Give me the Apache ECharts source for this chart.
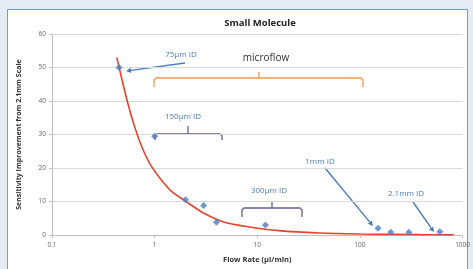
<!DOCTYPE html>
<html>
<head>
<meta charset="utf-8">
<script src="https://cdn.jsdelivr.net/npm/echarts@6/dist/echarts.min.js"></script>
<style>
html, body { margin: 0; padding: 0; background: #e4ebf3; }
#chart { width: 473px; height: 269px; }
</style>
</head>
<body>
<div id="chart"></div>
<script>
// measured points (blue diamonds)
var flowRate = [0.45, 1, 2, 3, 4, 12, 150, 200, 300, 600];
var sensitivity = [50, 29.5, 10.5, 8.8, 3.8, 3, 2, 0.8, 0.8, 1];

// red trend curve
var trendX = [0.428, 0.478, 0.547, 0.64, 0.748, 0.894, 1.118, 1.462, 2.044, 3.06, 4.79, 8.36, 16.3, 40, 100, 380, 820];
var trendY = [53, 46.7, 39.4, 32.2, 26.4, 21.4, 17.1, 13, 9.9, 6.4, 3.8, 2.4, 1.3, 0.6, 0.3, 0.1, 0.05];

var yTicks = [0, 10, 20, 30, 40, 50, 60];

var myChart = echarts.init(document.getElementById('chart'));

function arrow(x1, y1, x2, y2, color) {
	var a = Math.atan2(y2 - y1, x2 - x1);
	var L = 5, W = 2.6;
	var bx = x2 - L * Math.cos(a), by = y2 - L * Math.sin(a);
	return [{
		type: 'line',
		shape: { x1: x1, y1: y1, x2: bx, y2: by },
		style: { stroke: color, lineWidth: 1.4 }
	}, {
		type: 'polygon',
		shape: { points: [[x2, y2], [bx - W * Math.sin(a), by + W * Math.cos(a)], [bx + W * Math.sin(a), by - W * Math.cos(a)]] },
		style: { fill: color }
	}];
}

function bracket(x1, x2, yTop, yEnd, xMid, yMid, color) {
	return [{
		type: 'polyline',
		shape: { points: [[x1, yEnd], [x1, yTop + 2], [x1 + 2, yTop], [x2 - 2, yTop], [x2, yTop + 2], [x2, yEnd]] },
		style: { stroke: color, lineWidth: 1.3, fill: null }
	}, {
		type: 'line',
		shape: { x1: xMid, y1: yTop, x2: xMid, y2: yMid },
		style: { stroke: color, lineWidth: 1.3 }
	}];
}

function label(x, y, txt, color, size, weight) {
	return {
		type: 'text',
		x: x, y: y,
		style: {
			text: txt, fill: color, align: 'center', verticalAlign: 'middle',
			font: (weight || 'normal') + ' ' + size + 'px "Open Sans", sans-serif'
		}
	};
}

var blue = '#4a7ebb';
var purple = '#6a5b96';
var orange = '#f79646';

var graphics = [{
	type: 'rect',
	z: -10,
	shape: { x: 7.5, y: 9.5, width: 460, height: 270 },
	style: { fill: '#ffffff', stroke: '#6b9bd6', lineWidth: 1 }
}];
graphics.push(label(181, 55, '75\u00b5m ID', blue, 8));
graphics = graphics.concat(arrow(185, 63, 126, 71, blue));
graphics.push(label(266, 58, 'microflow', '#333333', 10));
graphics = graphics.concat(bracket(154, 363, 78, 87, 259, 72, orange));
graphics.push(label(183, 117, '150\u00b5m ID', blue, 8));
graphics = graphics.concat(bracket(155, 222, 134, 140, 188, 126, purple));
graphics.push(label(269, 191, '300\u00b5m ID', blue, 8));
graphics = graphics.concat(bracket(242, 302, 208, 217, 272, 202, purple));
graphics.push(label(320, 162, '1mm ID', blue, 8));
graphics = graphics.concat(arrow(325, 168, 373, 226, blue));
graphics.push(label(406, 194, '2.1mm ID', blue, 8));
graphics = graphics.concat(arrow(413, 202, 434, 232, blue));

var option = {
	animation: false,
	title: {
		text: 'Small Molecule',
		left: 255, top: 13,
		textAlign: 'center',
		textStyle: { fontSize: 9.5, fontWeight: 'bold', color: '#222', fontFamily: 'Open Sans' }
	},
	grid: { left: 52, right: 9, top: 34, bottom: 28 },
	xAxis: {
		type: 'log',
		logBase: 10,
		min: 0.1,
		max: 1000,
		name: 'Flow Rate (\u00b5l/min)',
		nameLocation: 'middle',
		nameGap: 21,
		nameTextStyle: { fontSize: 7.5, fontWeight: 'bold', color: '#333', fontFamily: 'Open Sans' },
		axisLine: { lineStyle: { color: '#bfbfbf' } },
		axisTick: { length: 3, lineStyle: { color: '#bfbfbf' } },
		minorTick: { show: false },
		splitLine: { show: false },
		axisLabel: {
			fontSize: 6.5, color: '#666', margin: 7, fontFamily: 'Open Sans',
			formatter: function (v) { return String(+v.toPrecision(6)); }
		}
	},
	yAxis: {
		type: 'value',
		min: yTicks[0],
		max: yTicks[yTicks.length - 1],
		interval: 10,
		name: 'Sensitivity Improvement from 2.1mm Scale',
		nameLocation: 'middle',
		nameGap: 30,
		nameTextStyle: { fontSize: 7, fontWeight: 'bold', color: '#333', fontFamily: 'Open Sans' },
		axisLine: { show: true, lineStyle: { color: '#bfbfbf' } },
		axisTick: { show: true, length: 3, lineStyle: { color: '#bfbfbf' } },
		splitLine: { lineStyle: { color: '#d9d9d9' } },
		axisLabel: { fontSize: 6.5, color: '#666', margin: 6, fontFamily: 'Open Sans' }
	},
	series: [{
		type: 'line',
		data: trendX.map(function (x, i) { return [x, trendY[i]]; }),
		smooth: 0.3,
		showSymbol: false,
		lineStyle: { color: '#e8412c', width: 1.6 },
		z: 2
	}, {
		type: 'scatter',
		symbol: 'diamond',
		symbolSize: 7,
		itemStyle: { color: blue },
		data: flowRate.map(function (x, i) { return [x, sensitivity[i]]; }),
		z: 3
	}],
	graphic: graphics
};
myChart.setOption(option);
</script>
</body>
</html>
